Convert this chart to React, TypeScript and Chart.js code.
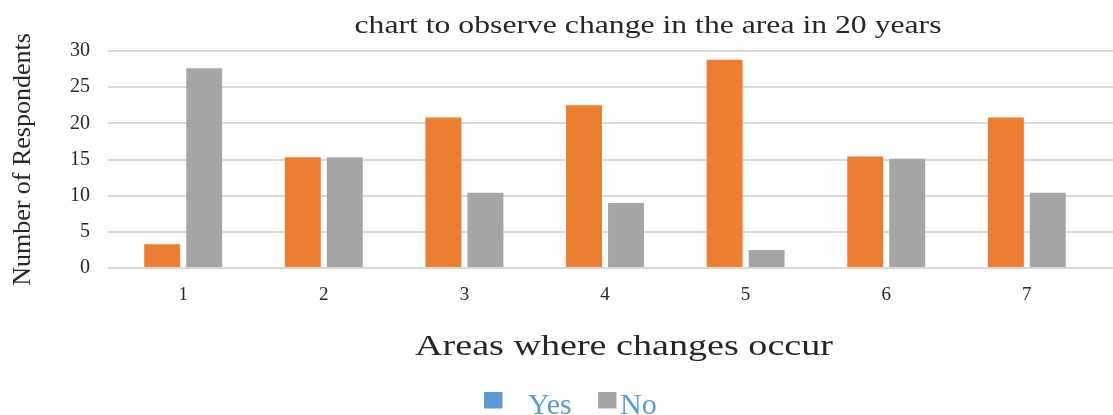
import { useEffect, useRef } from 'react';
import { Chart, registerables } from 'chart.js';

Chart.register(...registerables);

// ---- data ----
const areas = [1, 2, 3, 4, 5, 6, 7];
const yesValues = [3.3, 15.3, 20.8, 22.5, 28.8, 15.4, 20.8];
const noValues = [27.6, 15.3, 10.4, 9, 2.5, 15.1, 10.4];
const yTickValues = [0, 5, 10, 15, 20, 25, 30];
const seriesNames = ['Yes', 'No'];
const barColors = ['#ED7D31', '#A5A5A5'];
const legendSwatches = ['#5B9BD5', '#A5A5A5'];
const chartTitle = 'chart to observe change in the area in 20 years';
const xAxisTitle = 'Areas where changes occur';
const yAxisTitle = 'Number of Respondents';

const SERIF = '"Liberation Serif", "Times New Roman", serif';
const TEXT = '#262626';

function drawStretched(
  ctx: CanvasRenderingContext2D,
  text: string,
  cx: number,
  baseline: number,
  targetWidth: number,
  size: number,
  color: string
) {
  ctx.save();
  ctx.font = `${size}px ${SERIF}`;
  const w = ctx.measureText(text).width || 1;
  ctx.translate(cx, baseline);
  ctx.scale(targetWidth / w, 1);
  ctx.textAlign = 'center';
  ctx.textBaseline = 'alphabetic';
  ctx.fillStyle = color;
  ctx.fillText(text, 0, 0);
  ctx.restore();
}

const textPlugin = {
  id: 'customTexts',
  afterDraw(chart: any) {
    const ctx: CanvasRenderingContext2D = chart.ctx;
    drawStretched(ctx, chartTitle, 648, 33, 587, 26, TEXT);
    drawStretched(ctx, xAxisTitle, 624, 355, 418, 29, TEXT);
    // legend
    ctx.save();
    const boxes = [484, 598];
    const textsX = [528, 620];
    ctx.font = `30px ${SERIF}`;
    ctx.textAlign = 'left';
    ctx.textBaseline = 'alphabetic';
    seriesNames.forEach((name, i) => {
      ctx.fillStyle = legendSwatches[i];
      ctx.fillRect(boxes[i], 392, 18.5, 16.5);
      ctx.fillStyle = '#5B9BD5';
      ctx.fillText(name, textsX[i], 414);
    });
    ctx.restore();
  },
};

export default function App() {
  const ref = useRef<HTMLCanvasElement>(null);

  useEffect(() => {
    if (!ref.current) return;
    const chart = new Chart(ref.current, {
      type: 'bar',
      data: {
        datasets: [
          {
            label: seriesNames[0],
            data: areas.map((a, i) => ({ x: a, y: yesValues[i] })),
            backgroundColor: barColors[0],
            borderWidth: 0,
          },
          {
            label: seriesNames[1],
            data: areas.map((a, i) => ({ x: a, y: noValues[i] })),
            backgroundColor: barColors[1],
            borderWidth: 0,
          },
        ],
      },
      options: {
        responsive: false,
        animation: false,
        layout: { padding: { top: 51, left: 0, right: 0, bottom: 0 } },
        datasets: {
          bar: { categoryPercentage: 0.597, barPercentage: 0.857 },
        },
        plugins: {
          legend: { display: false },
          title: { display: false },
          tooltip: { enabled: false },
        },
        scales: {
          x: {
            type: 'linear',
            offset: false,
            min: 0.465,
            max: 7.613,
            grid: { display: false, offset: false },
            border: { display: false },
            ticks: {
              stepSize: 1,
              includeBounds: false,
              autoSkip: false,
              maxRotation: 0,
              padding: 8,
              color: TEXT,
              font: { family: SERIF, size: 19 },
            },
            afterFit: (s: any) => {
              s.height = 147;
            },
          },
          y: {
            min: 0,
            max: 30,
            afterBuildTicks: (s: any) => {
              s.ticks = yTickValues.map((v) => ({ value: v }));
            },
            grid: { color: '#D9D9D9', lineWidth: 2, drawTicks: false },
            border: { display: false },
            ticks: {
              padding: 18,
              color: TEXT,
              font: { family: SERIF, size: 20 },
            },
            title: {
              display: true,
              text: yAxisTitle,
              color: TEXT,
              font: { family: SERIF, size: 26 },
              padding: { top: 8, bottom: 0 },
            },
            afterFit: (s: any) => {
              s.width = 108;
            },
          },
        },
      } as any,
      plugins: [textPlugin],
    });
    return () => chart.destroy();
  }, []);

  return (
    <div style={{ position: 'absolute', left: 0, top: 0, width: 1113, height: 415, background: '#fff' }}>
      <canvas ref={ref} width={1113} height={415} style={{ display: 'block', width: 1113, height: 415 }} />
    </div>
  );
}
